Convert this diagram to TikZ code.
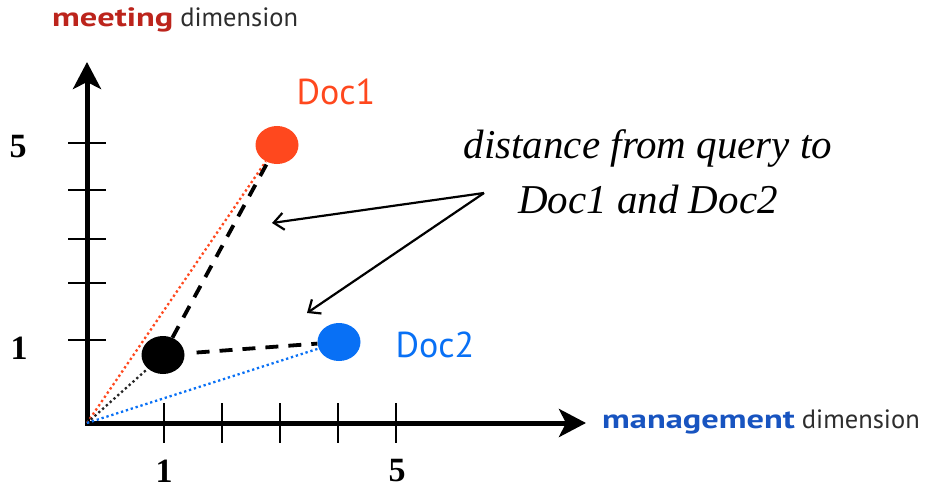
\documentclass[tikz,border=0pt]{standalone}
\usepackage{fontspec}
\setmainfont{Liberation Serif}
\newfontfamily\humfont{PT Sans}
\usetikzlibrary{arrows.meta}
\usetikzlibrary{shapes.geometric}

\definecolor{docred}{RGB}{255,72,30}
\definecolor{docblue}{RGB}{8,112,245}
\definecolor{meetred}{RGB}{188,36,28}
\definecolor{mgmtblue}{RGB}{24,84,192}
\definecolor{dimgrey}{RGB}{45,45,45}

% heavy, wide word in an axis title
\newcommand{\heavyword}[2]{\textcolor{#1}{\scalebox{1.3}[1]{\bfseries #2}}}

\tikzset{
  axisline/.style={line width=5pt,line join=miter,
    arrows={Stealth[length=27pt,width=28pt,inset=7pt]-Stealth[length=27pt,width=28pt,inset=7pt]}},
  ticmark/.style={line width=2.6pt},
  docdot/.style={ellipse,minimum width=43pt,minimum height=38pt,inner sep=0pt},
  raydot/.style={line width=2.3pt,dash pattern=on 2.3pt off 2.8pt},
  distline/.style={line width=3.8pt,dash pattern=on 13pt off 10pt},
  pointer/.style={line width=2.2pt,-{Straight Barb[length=10pt,width=17pt]}},
  ticklabel/.style={font=\fontsize{34}{34}\selectfont\bfseries,inner sep=0pt},
  dimlabel/.style={font=\humfont\fontsize{#1}{#1}\selectfont,text=dimgrey,inner sep=0pt,anchor=base west}
}

\begin{document}
\begin{tikzpicture}[x=1pt,y=-1pt]
  \useasboundingbox (0,0) rectangle (939,492);

  % axes
  \coordinate (o) at (87,423);
  \coordinate (xtip) at (586,423);
  \coordinate (ytip) at (87,62);
  \draw[axisline] (ytip) -- (o) -- (xtip);
  \foreach \tx in {164,222,280,338,396}
    \draw[ticmark] (\tx,403) -- (\tx,443);
  \foreach \ty in {143,190,239,283,340}
    \draw[ticmark] (68,\ty) -- (106,\ty);

  \node[ticklabel] (y1) at (19,348) {1};
  \node[ticklabel] (y5) at (18,147) {5};
  \node[ticklabel] (x1) at (164,471) {1};
  \node[ticklabel] (x5) at (397,471) {5};

  \node[dimlabel=26.5] (ytitle) at (52,27) {\heavyword{meetred}{meeting} dimension};
  \node[dimlabel=26.5] (xtitle) at (602,428) {\heavyword{mgmtblue}{management} dimension};

  % query and documents
  \node[docdot,fill=black] (query) at (163,355) {};
  \node[docdot,fill=docred] (doc1) at (277,145) {};
  \node[docdot,fill=docblue] (doc2) at (339,342) {};

  \draw[raydot,docred] (o) -- (doc1);
  \draw[raydot,black!85] (o) -- (query);
  \draw[raydot,docblue] (o) -- (doc2);
  \draw[distline] (query) -- (doc1);
  \draw[distline,shorten <=12pt] (query) -- (doc2);

  \node[font=\humfont\fontsize{36}{36}\selectfont,text=docred] (doc1lbl) at (336,92) {Doc1};
  \node[font=\humfont\fontsize{36}{36}\selectfont,text=docblue] (doc2lbl) at (435,345) {Doc2};

  % annotation
  \node[font=\itshape\fontsize{41}{55}\selectfont,align=center] (note) at (648,172)
    {distance from query to\\Doc1 and Doc2};
  \coordinate (fork) at (484,193);
  \coordinate (gap1) at (272,223);
  \coordinate (gap2) at (307,313);
  \draw[pointer] (fork) -- (gap1);
  \draw[pointer] (fork) -- (gap2);
\end{tikzpicture}
\end{document}
